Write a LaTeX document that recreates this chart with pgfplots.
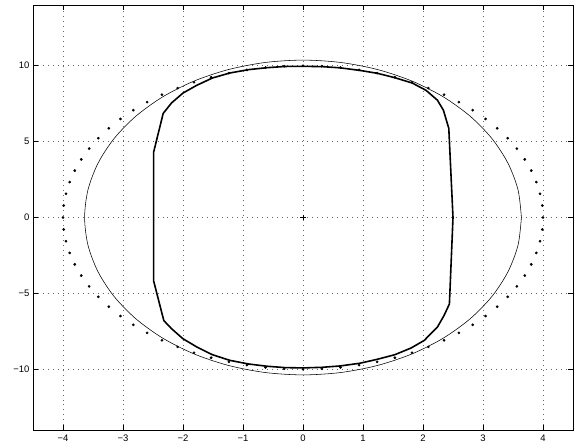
\documentclass[border=0pt]{standalone}
\usepackage{fontspec}
\setmainfont{Liberation Sans}
\usepackage{pgfplots}
\pgfplotsset{compat=1.18}
\begin{document}
\begin{tikzpicture}
\begin{axis}[name=ax,
  width=540bp, height=425bp, scale only axis,
  xmin=-4.5, xmax=4.5, ymin=-14, ymax=14,
  xtick={-4,-3,-2,-1,0,1,2,3,4},
  xticklabels={−4,−3,−2,−1,0,1,2,3,4},
  ytick={-10,-5,0,5,10},
  yticklabels={−10,−5,0,5,10},
  grid=major,
  major grid style={black!60, line width=0.45pt, dash pattern=on 0.6pt off 4.4pt},
  tick align=inside, tick pos=both, major tick length=5bp,
  tick style={black, line width=0.6pt},
  axis line style={black, line width=0.8pt},
  ticklabel style={font=\fontsize{9.5}{11}\selectfont},
  xticklabel style={yshift=-1bp},
]
% thin ellipse
\addplot[black, line width=0.55pt, smooth] coordinates {
(3.640,0) (3.585,1.801) (3.420,3.547) (3.152,5.185) (2.788,6.666) (2.340,7.944) (1.820,8.981) (1.245,9.745) (0.632,10.212) (0,10.37)
(-0.632,10.212) (-1.245,9.745) (-1.820,8.981) (-2.340,7.944) (-2.788,6.666) (-3.152,5.185) (-3.420,3.547) (-3.585,1.801) (-3.640,0)
(-3.585,-1.801) (-3.420,-3.547) (-3.152,-5.185) (-2.788,-6.666) (-2.340,-7.944) (-1.820,-8.981) (-1.245,-9.745) (-0.632,-10.212) (0,-10.37)
(0.632,-10.212) (1.245,-9.745) (1.820,-8.981) (2.340,-7.944) (2.788,-6.666) (3.152,-5.185) (3.420,-3.547) (3.585,-1.801) (3.640,0)
};
% dotted ellipse
\addplot[black, only marks, mark=*, mark size=1.15pt] coordinates {
(4,0) (3.988,0.785) (3.951,1.564) (3.889,2.334) (3.804,3.090) (3.696,3.827) (3.564,4.540) (3.411,5.225) (3.236,5.878) (3.042,6.494)
(2.828,7.071) (2.598,7.604) (2.351,8.090) (2.090,8.526) (1.816,8.910) (1.531,9.239) (1.236,9.511) (0.934,9.724) (0.626,9.877) (0.314,9.969)
(0,10) (-0.314,9.969) (-0.626,9.877) (-0.934,9.724) (-1.236,9.511) (-1.531,9.239) (-1.816,8.910) (-2.090,8.526) (-2.351,8.090) (-2.598,7.604)
(-2.828,7.071) (-3.042,6.494) (-3.236,5.878) (-3.411,5.225) (-3.564,4.540) (-3.696,3.827) (-3.804,3.090) (-3.889,2.334) (-3.951,1.564) (-3.988,0.785)
(-4,0) (-3.988,-0.785) (-3.951,-1.564) (-3.889,-2.334) (-3.804,-3.090) (-3.696,-3.827) (-3.564,-4.540) (-3.411,-5.225) (-3.236,-5.878) (-3.042,-6.494)
(-2.828,-7.071) (-2.598,-7.604) (-2.351,-8.090) (-2.090,-8.526) (-1.816,-8.910) (-1.531,-9.239) (-1.236,-9.511) (-0.934,-9.724) (-0.626,-9.877) (-0.314,-9.969)
(0,-10) (0.314,-9.969) (0.626,-9.877) (0.934,-9.724) (1.236,-9.511) (1.531,-9.239) (1.816,-8.910) (2.090,-8.526) (2.351,-8.090) (2.598,-7.604)
(2.828,-7.071) (3.042,-6.494) (3.236,-5.878) (3.411,-5.225) (3.564,-4.540) (3.696,-3.827) (3.804,-3.090) (3.889,-2.334) (3.951,-1.564) (3.988,-0.785)
};
% thick boundary
\addplot[black, line width=1.6pt, line join=round] coordinates {
(0,9.96) (0.32,9.94) (0.62,9.86) (0.95,9.69) (1.24,9.50) (1.53,9.21) (1.82,8.86) (2.05,8.38) (2.24,7.73) (2.34,7.07) (2.43,5.87)
(2.50,0) (2.44,-5.70) (2.35,-6.46) (2.24,-7.22) (2.02,-8.10) (1.80,-8.60) (1.53,-9.04) (1.24,-9.34) (0.95,-9.60) (0.62,-9.78) (0.32,-9.87)
(0,-9.91) (-0.30,-9.89) (-0.60,-9.80) (-0.91,-9.65) (-1.22,-9.41) (-1.51,-9.04) (-1.77,-8.53) (-2.00,-7.99) (-2.19,-7.33) (-2.32,-6.79)
(-2.49,-4.17) (-2.49,4.30) (-2.33,6.86) (-2.19,7.55) (-2.00,8.20) (-1.77,8.71) (-1.51,9.19) (-1.22,9.52) (-0.91,9.74) (-0.60,9.87) (-0.30,9.95) (0,9.96)
};
% centre
\addplot[black, only marks, mark=+, mark size=3pt, mark options={line width=0.6pt}] coordinates {(0,0)};
\end{axis}
\path[use as bounding box] ([xshift=-33bp,yshift=-15bp]ax.south west) rectangle ([xshift=2bp,yshift=5bp]ax.north east);
\end{tikzpicture}
\end{document}
